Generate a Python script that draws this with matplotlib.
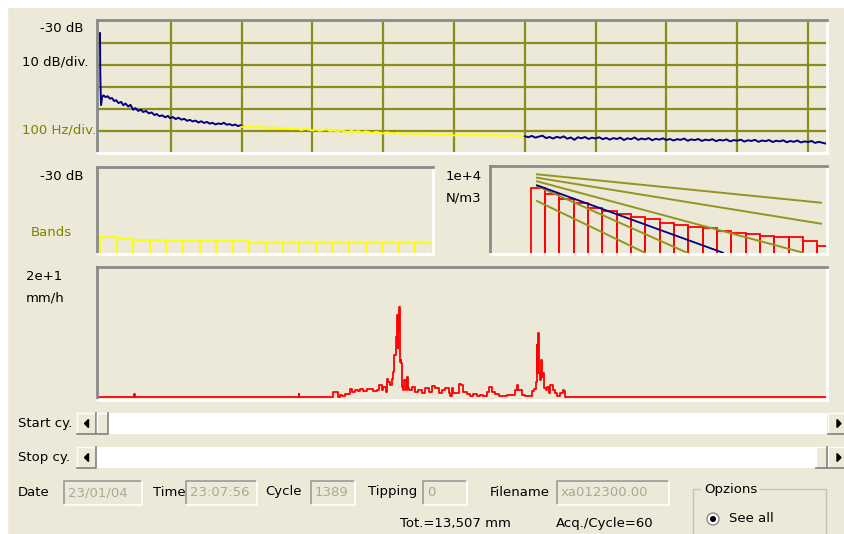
import matplotlib.pyplot as plt
import numpy as np
from matplotlib.patches import Rectangle, Circle, Polygon

# ---- spectrum (dB) ----
spec_low_f = [0, 0.5, 1.5, 3, 5, 8, 11, 14, 17, 20, 23, 26, 30, 33, 36, 40, 43, 47, 50, 54,
              58, 61, 65, 69, 73, 77, 80, 84, 88, 92, 96, 99, 103, 107, 111, 115, 119, 123,
              127, 131, 135, 139, 143, 147, 151, 155, 159, 163, 167, 171, 175, 179, 183, 187,
              191, 195, 199, 202]
spec_low_db = [-35.4, -55.3, -68.2, -64.5, -63.8, -64.6, -64.2, -65.3, -65.0, -66.4, -66.0,
               -67.3, -66.8, -68.3, -67.5, -68.9, -68.1, -70.4, -69.6, -70.9, -70.3, -71.4,
               -70.9, -72.0, -71.6, -72.8, -72.3, -73.3, -72.9, -73.8, -73.2, -74.2, -73.7,
               -74.6, -74.0, -74.9, -74.5, -75.4, -75.0, -75.7, -75.3, -76.2, -75.6, -76.4,
               -75.9, -76.7, -76.3, -77.1, -76.6, -76.9, -76.3, -77.2, -76.9, -77.5, -77.1,
               -77.8, -77.4, -78.1]
spec_mid_f = np.arange(200, 601, 5)
spec_mid_db = [-78.1, -78.4, -77.8, -78.2, -78.6, -78.0, -78.7, -78.3, -78.9, -78.4, -78.7,
               -79.1, -78.6, -79.0, -79.3, -78.8, -79.2, -79.6, -79.0, -79.4, -79.8, -79.3,
               -80.0, -79.6, -79.2, -80.1, -79.7, -80.3, -79.7, -80.2, -80.6, -80.0, -80.5,
               -80.1, -80.8, -80.2, -80.6, -81.0, -80.4, -80.8, -81.2, -80.6, -81.0, -81.4,
               -80.8, -81.2, -81.6, -80.9, -81.3, -81.7, -81.1, -81.5, -81.0, -81.6, -81.9,
               -81.3, -81.7, -82.0, -81.4, -81.8, -82.1, -81.6, -82.0, -81.5, -81.9, -82.2,
               -81.7, -82.1, -81.8, -82.3, -81.9, -82.2, -81.8, -82.4, -82.0, -82.3, -81.9,
               -82.4, -82.1, -82.5, -82.2]
spec_high_f = np.arange(600, 1026, 5)
spec_high_db = [-82.4, -82.9, -82.3, -83.1, -82.6, -82.2, -83.3, -82.8, -83.5, -82.7, -83.2,
                -82.5, -83.6, -83.0, -84.1, -82.9, -83.4, -82.8, -83.7, -83.1, -83.5, -82.9,
                -83.8, -83.2, -84.0, -83.3, -83.7, -83.1, -84.2, -83.4, -83.8, -83.0, -84.1,
                -83.5, -83.9, -83.3, -84.3, -83.6, -84.0, -83.4, -84.2, -83.7, -84.4, -83.8,
                -84.1, -83.5, -84.5, -83.9, -84.2, -83.7, -84.6, -84.0, -84.3, -83.8, -84.7,
                -84.1, -84.4, -83.9, -84.8, -84.2, -84.5, -84.0, -84.9, -84.3, -84.6, -84.1,
                -85.0, -84.4, -84.7, -84.2, -85.1, -84.5, -84.8, -84.3, -85.2, -84.6, -85.0,
                -84.4, -85.3, -84.8, -85.1, -84.6, -85.5, -85.0, -85.4, -85.8]

# ---- bands (dB) ----
band_db = [-62.0, -62.7, -63.3, -63.3, -63.8, -63.8, -63.8, -63.8, -63.8, -64.7, -64.7,
           -64.7, -64.7, -64.7, -64.7, -64.7, -64.7, -64.7, -64.7, -64.7]

# ---- drop size distribution (N/m3) ----
dsd_edges = np.arange(0.25, 6.5, 0.3)
dsd_counts = [1738, 1110, 732, 535, 378, 292, 231, 187, 152, 117, 97, 81, 75, 62, 53, 47,
              42, 39, 37, 28, 19]
fit_d = [[0.383, 6.325], [0.383, 6.325], [0.383, 5.95], [0.383, 3.52], [0.383, 2.64]]
fit_n = [[5210, 561], [3990, 108], [3006, 11.1], [2080, 11.1], [641, 11.1]]
mp_d = [0.383, 4.27]
mp_n = [2198, 11.1]

# ---- rain rate (mm/h) per cycle ----
rain_cycle = [0, 70, 71, 72, 383, 384, 385, 448, 449, 457, 459, 462, 466, 472, 481, 485, 491,
              497, 501, 507, 513, 520, 526, 533, 537, 542, 545, 549, 551, 554, 558, 561, 563,
              565, 568, 570, 572, 573, 574, 575, 577, 578, 579, 580, 582, 584, 587, 589, 592,
              594, 599, 605, 611, 618, 624, 631, 637, 643, 650, 656, 662, 669, 672, 675, 678,
              685, 688, 692, 697, 704, 710, 716, 723, 729, 735, 742, 746, 751, 757, 764, 773,
              780, 789, 796, 799, 802, 808, 815, 821, 827, 832, 835, 837, 838, 839, 841, 843,
              845, 847, 849, 851, 854, 857, 860, 862, 865, 868, 872, 875, 881, 886, 889, 891,
              1389]
rain_rate = [0, 0, 0.4, 0, 0, 0.4, 0, 0, 0.77, 0.77, 0, 0.26, 0.1, 0.41, 1.13, 0.77, 1.03,
             0.87, 1.13, 0.92, 1.13, 1.23, 0.87, 1.03, 1.8, 1.03, 1.54, 0.77, 2.67, 2.31, 1.8,
             2.67, 3.85, 6.42, 9.25, 12.6, 7.45, 12.3, 10.3, 13.9, 5.4, 5.65, 5.14, 1.54, 1.03,
             2.57, 1.03, 2.98, 1.28, 1.03, 1.54, 0.77, 1.03, 0.51, 1.28, 0.77, 1.64, 1.28, 0.51,
             1.03, 1.28, 0.51, 0.1, 1.28, 0.62, 0.51, 1.95, 1.8, 0.77, 0.41, 0.1, 0.41, 0.1,
             0.2, 0.1, 0.77, 1.54, 0.77, 0.41, 0.1, 0.1, 0.2, 0.2, 1.03, 1.8, 1.03, 0.26, 0.1,
             0.1, 0.92, 1.13, 2.31, 7.97, 3.6, 9.87, 3.6, 2.57, 5.65, 3.08, 3.6, 1.28, 1.03,
             1.54, 0.51, 1.8, 1.8, 1.03, 0.51, 0.1, 0.51, 1.03, 0.92, 0, 0]

W, H = 844, 534
BG = '#ECE9D8'
OLIVE = '#8C8C1A'
NAVY = '#000080'
RED = '#FF0000'
YELLOW = '#FFFF00'
GRAYTXT = '#ACA899'
FS = 9.5

plt.rcParams['font.family'] = ['DejaVu Sans']
fig = plt.figure(figsize=(W / 100, H / 100), dpi=100, facecolor=BG)

ui = fig.add_axes([0, 0, 1, 1])
ui.set_xlim(0, W)
ui.set_ylim(H, 0)
ui.axis('off')
ui.add_patch(Rectangle((0, 0), W, 7, color='white'))
ui.add_patch(Rectangle((0, 0), 7, H, color='white'))


def rect(x0, y0, x1, y1):
    return [x0 / W, 1 - y1 / H, (x1 - x0) / W, (y1 - y0) / H]


def panel(x0, y0, x1, y1):
    ax = fig.add_axes(rect(x0, y0, x1, y1))
    ax.set_facecolor(BG)
    for s in ('top', 'left'):
        ax.spines[s].set_color('#8A8A8A')
        ax.spines[s].set_linewidth(2)
    for s in ('bottom', 'right'):
        ax.spines[s].set_color('white')
        ax.spines[s].set_linewidth(2)
    ax.tick_params(length=0, labelleft=False, labelbottom=False)
    return ax


def label(x, y, s, ha='left', color='black'):
    ui.text(x, y, s, ha=ha, va='center', fontsize=FS, color=color)


# spectrum panel
ax1 = panel(97, 20, 827, 153)
ax1.set_xlim(-4.2, 1026.8)
ax1.set_ylim(-90.1, -29.4)
ax1.set_xticks(range(100, 1001, 100))
ax1.set_yticks([-80, -70, -60, -50, -40])
ax1.grid(True, color=OLIVE, lw=1.6)
ax1.set_axisbelow(True)
ax1.plot(spec_low_f, spec_low_db, color=NAVY, lw=1.4)
ax1.plot(spec_mid_f, spec_mid_db, color=YELLOW, lw=1.4)
ax1.plot(spec_high_f, spec_high_db, color=NAVY, lw=1.4)

# bands panel
ax2 = panel(97, 167, 433, 254)
ax2.set_xlim(-0.18, 20.06)
ax2.set_ylim(-69.5, -30)
ax2.bar(range(len(band_db)), np.array(band_db) + 75, bottom=-75, width=1, align='edge',
        fill=False, edgecolor=YELLOW, lw=1.3)

# drop size distribution panel
ax3 = panel(490, 166, 827, 254)
ax3.set_yscale('log')
ax3.set_xlim(-0.6, 6.45)
ax3.set_ylim(10, 1e4)
ax3.minorticks_off()
ax3.tick_params(which='both', length=0, labelleft=False, labelbottom=False)
ax3.bar(dsd_edges, np.array(dsd_counts) - 1, bottom=1, width=0.3, align='edge',
        fill=False, edgecolor=RED, lw=1.3)
for d, n in zip(fit_d, fit_n):
    ax3.plot(d, n, color='#94941E', lw=1.4)
ax3.plot(mp_d, mp_n, color=NAVY, lw=1.3)

# rain rate panel
ax4 = panel(97, 267, 827, 400)
ax4.set_xlim(0, 1389)
ax4.set_ylim(-0.51, 20)
ax4.plot(rain_cycle, rain_rate, color=RED, lw=1.3, drawstyle='steps-post')

# labels
label(84, 29, '-30 dB', 'right')
label(88, 62, '10 dB/div.', 'right')
label(96, 130, '100 Hz/div.', 'right', '#808000')
label(84, 176, '-30 dB', 'right')
label(72, 232, 'Bands', 'right', '#808000')
label(446, 176, '1e+4')
label(446, 198, 'N/m3')
label(26, 277, '2e+1')
label(26, 298, 'mm/h')


def raised(x0, y0, x1, y1):
    ui.add_patch(Rectangle((x0, y0), x1 - x0, y1 - y0, facecolor=BG, edgecolor='none'))
    ui.plot([x0, x0, x1], [y1, y0, y0], color='white', lw=1)
    ui.plot([x0, x1, x1], [y1, y1, y0], color='#808080', lw=1.2)


def button(x0, y0, x1, y1, left):
    raised(x0, y0, x1, y1)
    cx, cy = (x0 + x1) / 2, (y0 + y1) / 2
    if left:
        pts = [(cx + 2, cy - 4), (cx + 2, cy + 4), (cx - 2, cy)]
    else:
        pts = [(cx - 2, cy - 4), (cx - 2, cy + 4), (cx + 2, cy)]
    ui.add_patch(Polygon(pts, color='black'))


# scrollbars
for y0, y1, thumb, name in [(413, 434, (97, 108), 'Start cy.'), (447, 468, (816, 827), 'Stop cy.')]:
    label(18, (y0 + y1) / 2, name)
    ui.add_patch(Rectangle((96, y0), 731, y1 - y0, facecolor='white', edgecolor='none'))
    button(77, y0, 96, y1, True)
    button(828, y0, 850, y1, False)
    raised(thumb[0], y0, thumb[1], y1)


def edit(x0, x1, s):
    y0, y1 = 481, 505
    ui.add_patch(Rectangle((x0, y0), x1 - x0, y1 - y0, facecolor=BG, edgecolor='none'))
    ui.plot([x0, x0, x1], [y1, y0, y0], color='#9A9A9A', lw=1.2)
    ui.plot([x0, x1, x1], [y1, y1, y0], color='white', lw=1.2)
    ui.text(x0 + 4, (y0 + y1) / 2, s, ha='left', va='center', fontsize=FS, color=GRAYTXT)


label(18, 492, 'Date')
edit(64, 142, '23/01/04')
label(153, 492, 'Time')
edit(186, 257, '23:07:56')
label(265, 492, 'Cycle')
edit(311, 355, '1389')
label(368, 492, 'Tipping')
edit(423, 467, '0')
label(490, 492, 'Filename')
edit(557, 669, 'xa012300.00')

# options group
ui.plot([700, 693, 693], [489, 489, 540], color='#C8C5B8', lw=1)
ui.plot([760, 826, 826], [489, 489, 540], color='#C8C5B8', lw=1)
label(704, 490, 'Opzions')
ui.add_patch(Circle((713, 519), 6, facecolor='white', edgecolor='#8A8A8A', lw=1))
ui.add_patch(Circle((713, 519), 2.3, color='black'))
label(729, 519, 'See all')
label(400, 523, 'Tot.=13,507 mm')
label(556, 523, 'Acq./Cycle=60')

fig.savefig('out.png', dpi=100, facecolor=BG)
